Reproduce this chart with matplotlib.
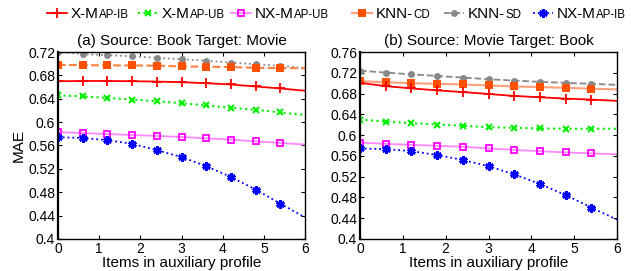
import matplotlib
matplotlib.use("Agg")
import matplotlib.pyplot as plt
from matplotlib.lines import Line2D
import numpy as np

plt.rcParams['font.family'] = ['Liberation Sans', 'DejaVu Sans']

x = [0, 0.6, 1.2, 1.8, 2.4, 3.0, 3.6, 4.2, 4.8, 5.4, 6.0]

# Panel (a) Source: Book Target: Movie
a_xmap_ib = [0.670, 0.6704, 0.6704, 0.670, 0.6694, 0.6683, 0.6666, 0.6644, 0.661, 0.6576, 0.6537]
a_xmap_ub = [0.6459, 0.6442, 0.6414, 0.6386, 0.6357, 0.6324, 0.6285, 0.6245, 0.6211, 0.6167, 0.612]
a_nxmap_ub = [0.583, 0.5813, 0.5796, 0.578, 0.5763, 0.5746, 0.5723, 0.5700, 0.5672, 0.5644, 0.5616]
a_knn_cd = [0.698, 0.6975, 0.6972, 0.6969, 0.6966, 0.6954, 0.6948, 0.6942, 0.693, 0.6925, 0.692]
a_knn_sd = [0.720, 0.7166, 0.7145, 0.7128, 0.710, 0.7077, 0.705, 0.702, 0.699, 0.6964, 0.6925]
a_nxmap_ib = [0.574, 0.573, 0.569, 0.563, 0.552, 0.5403, 0.5246, 0.5061, 0.4847, 0.4606, 0.437]

# Panel (b) Source: Movie Target: Book
b_xmap_ib = [0.7006, 0.6943, 0.6899, 0.6861, 0.6829, 0.6792, 0.6754, 0.6728, 0.6703, 0.6684, 0.6659]
b_xmap_ub = [0.6299, 0.6261, 0.623, 0.6204, 0.6179, 0.6154, 0.6141, 0.6128, 0.6122, 0.6122, 0.6122]
b_nxmap_ub = [0.5857, 0.5832, 0.5813, 0.5794, 0.5775, 0.5744, 0.5715, 0.5690, 0.5667, 0.5648, 0.563]
b_knn_cd = [0.7038, 0.7019, 0.700, 0.6987, 0.6975, 0.6956, 0.6937, 0.6924, 0.6911, 0.6893, 0.688]
b_knn_sd = [0.724, 0.7204, 0.717, 0.7139, 0.7107, 0.7076, 0.705, 0.7025, 0.7006, 0.6987, 0.6968]
b_nxmap_ib = [0.5743, 0.573, 0.5692, 0.5617, 0.5522, 0.5402, 0.5244, 0.5061, 0.4846, 0.4606, 0.4373]

titles = ["(a) Source: Book Target: Movie", "(b) Source: Movie Target: Book"]
xticks = [0, 1, 2, 3, 4, 5, 6]
a_yticks = [0.4, 0.44, 0.48, 0.52, 0.56, 0.6, 0.64, 0.68, 0.72]
a_yticklabels = ["0.4", "0.44", "0.48", "0.52", "0.56", "0.6", "0.64", "0.68", "0.72"]
b_yticks = [0.4, 0.44, 0.48, 0.52, 0.56, 0.6, 0.64, 0.68, 0.72, 0.76]
b_yticklabels = ["0.4", "0.44", "0.48", "0.52", "0.56", "0.6", "0.64", "0.68", "0.72", "0.76"]

legend_main = ["X-M", "X-M", "NX-M", "KNN-", "KNN-", "NX-M"]
legend_small = ["AP-IB", "AP-UB", "AP-UB", "CD", "SD", "AP-IB"]

styles = [
    dict(color='#ff0000', ls='-', marker='+', ms=6.5, mew=1.3, lw=1.3, mfc='#ff0000'),
    dict(color='#00ee00', ls=':', marker='x', ms=5, mew=1.5, lw=1.5, mfc='#00ee00'),
    dict(color='#ff88ff', ls='-', marker='s', ms=5, mew=1.3, lw=1.3, mfc='none', mec='#ff00ff'),
    dict(color='#ffa07a', ls='-', marker='s', ms=5.5, mew=0, lw=1.5, mfc='#ff5000', mec='#ff5000'),
    dict(color='#888888', ls='--', marker='o', ms=5, mew=0, lw=1.3, mfc='#888888', mec='#888888'),
    dict(color='#0000ff', ls=':', marker=(6, 2, 0), ms=6, mew=2.0, lw=1.3, mfc='#0000ff', mec='#0000ff'),
]

fig = plt.figure(figsize=(6.31, 2.71), dpi=100)
ax_a = fig.add_axes([58/631, 32/271, 247/631, 187/271])
ax_b = fig.add_axes([360/631, 32/271, 257/631, 187/271])

panels = [
    (ax_a, [a_xmap_ib, a_xmap_ub, a_nxmap_ub, a_knn_cd, a_knn_sd, a_nxmap_ib], (0.4, 0.72), a_yticks, a_yticklabels),
    (ax_b, [b_xmap_ib, b_xmap_ub, b_nxmap_ub, b_knn_cd, b_knn_sd, b_nxmap_ib], (0.4, 0.76), b_yticks, b_yticklabels),
]

for i, (ax, series, ylim, yt, ytl) in enumerate(panels):
    order = [4, 3, 0, 1, 2, 5]
    for k in order:
        st = dict(styles[k])
        if i == 0 and k == 3:
            st['ls'] = '--'
            st['color'] = '#ff8040'
        if i == 0 and k == 4:
            st['ls'] = ':'
        ax.plot(x, series[k], markevery=list(range(10)), clip_on=True, **st)
    ax.set_xlim(0, 6)
    ax.set_ylim(*ylim)
    ax.set_xticks(xticks)
    ax.set_yticks(yt)
    ax.set_yticklabels(ytl)
    ax.tick_params(direction='in', top=True, right=True, labelsize=10, length=3, pad=2)
    for s in ax.spines.values():
        s.set_linewidth(1.0)
    ax.spines['left'].set_linewidth(1.6)
    ax.set_title(titles[i], fontsize=11, pad=5)
    ax.set_xlabel("Items in auxiliary profile", fontsize=11, labelpad=0)
    if i == 0:
        ax.set_ylabel("MAE", fontsize=11, labelpad=2)

# Manual legend with small-caps-like labels
handle_x = [47, 138, 231, 352, 444, 533]
ly = 13
fig.canvas.draw()
renderer = fig.canvas.get_renderer()
for k in range(6):
    st = dict(styles[k])
    x0 = handle_x[k] / 631
    x1 = (handle_x[k] + 20) / 631
    yy = 1 - ly / 271
    fig.add_artist(Line2D([x0, x1], [yy, yy], color=st['color'], ls=st['ls'], lw=st['lw'],
                          transform=fig.transFigure))
    fig.add_artist(Line2D([(x0 + x1) / 2], [yy], marker=st['marker'], ms=st['ms'], mew=st['mew'],
                          mfc=st['mfc'], mec=st.get('mec', st['color']), color=st['color'],
                          transform=fig.transFigure))
    t1 = fig.text(x1 + 4 / 631, yy - 5 / 271, legend_main[k], fontsize=11, va='baseline',
                  ha='left', transform=fig.transFigure)
    bb = t1.get_window_extent(renderer=renderer)
    fig.text(bb.x1 / fig.bbox.width + 0.5 / 631, yy - 5 / 271, legend_small[k], fontsize=8.3,
             va='baseline', ha='left', transform=fig.transFigure)

fig.savefig("out.png", dpi=100)
